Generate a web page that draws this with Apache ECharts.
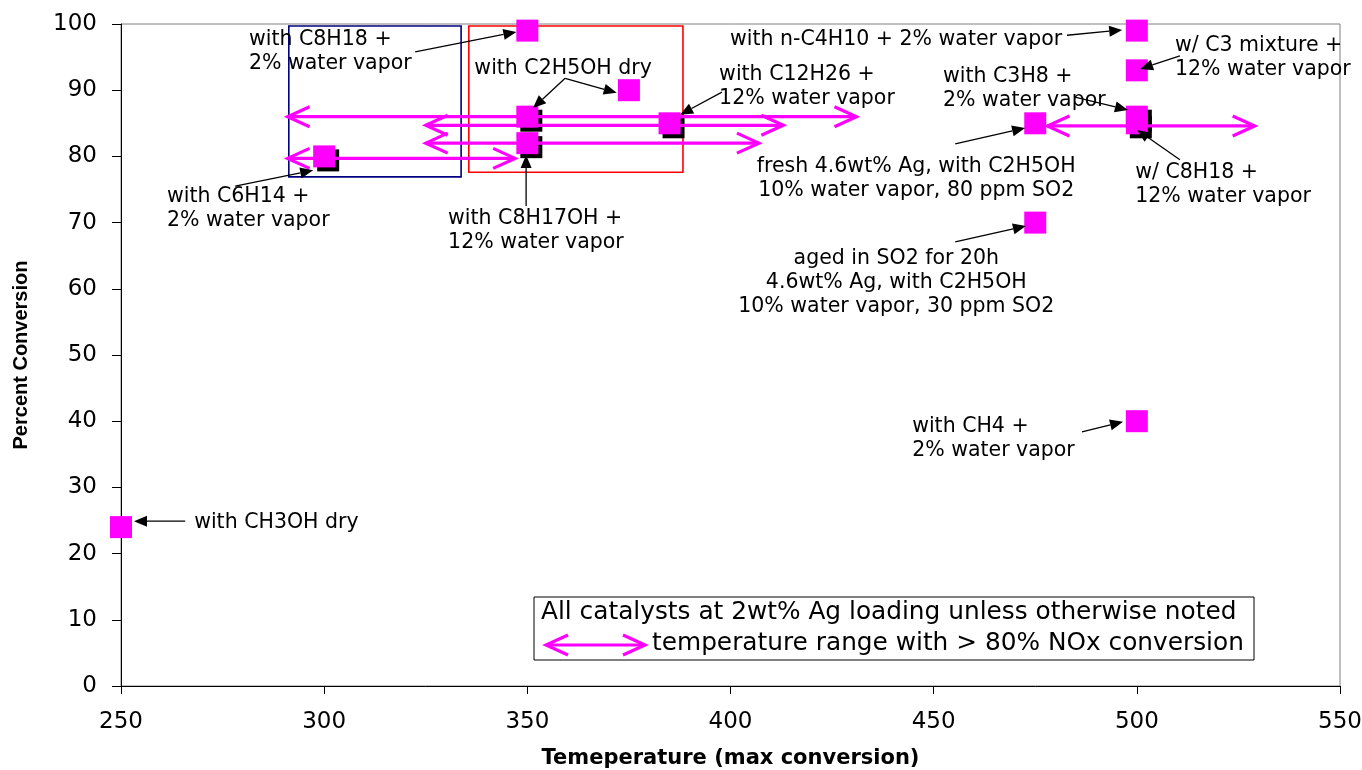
<!DOCTYPE html>
<html><head><meta charset="utf-8">
<script src="https://cdn.jsdelivr.net/npm/echarts@6/dist/echarts.min.js"></script>
<style>html,body{margin:0;padding:0;background:#fff}#c{width:1362px;height:770px}</style>
</head><body><div id="c"></div>
<script>
// ---- data ----
const plainX = [250, 350, 375, 475, 475, 500, 500, 500];
const plainY = [24, 99, 90, 85, 70, 99, 93, 40];
const shadowX = [300, 350, 350, 385, 500, 500];
const shadowY = [80, 86, 82, 85, 86, 85];
// temperature ranges with > 80% NOx conversion
const rangeStart = [291, 325, 325, 291, 478];
const rangeEnd   = [431, 413, 407, 347, 529];
const rangeY     = [86, 84.7, 82, 79.7, 84.6];
const xTicks = [250, 300, 350, 400, 450, 500, 550];
const yTicks = [0, 10, 20, 30, 40, 50, 60, 70, 80, 90, 100];

// ---- annotations (data coordinates) ----
const labelTexts = [
  'with C8H18 +\n2% water vapor',
  'with C2H5OH dry',
  'with C12H26 +\n12% water vapor',
  'with n-C4H10 + 2% water vapor',
  'w/ C3 mixture +\n12% water vapor',
  'with C3H8 +\n2% water vapor',
  'fresh 4.6wt% Ag, with C2H5OH\n10% water vapor, 80 ppm SO2',
  'w/ C8H18 +\n12% water vapor',
  'aged in SO2 for 20h\n4.6wt% Ag, with C2H5OH\n10% water vapor, 30 ppm SO2',
  'with CH4 +\n2% water vapor',
  'with CH3OH dry',
  'with C6H14 +\n2% water vapor',
  'with C8H17OH +\n12% water vapor'
];
const labelX = [281.5, 358.8, 397.2, 399.9, 509.4, 452.3, 445.7, 499.6, 440.8, 444.7, 268.0, 261.3, 330.5];
const labelY = [95.8, 93.2, 90.6, 97.6, 94.9, 90.3, 76.6, 75.8, 60.9, 37.3, 24.6, 72.05, 68.8];
const labelAlign = ['left','center','left','left','left','left','center','left','center','left','left','left','left'];

const arrowFromX = [322.4, 359.3, 359.3, 397.9, 482.8, 510.6, 484.8, 455.3, 510.6, 455.3, 486.5, 265.8, 278.1, 349.7];
const arrowFromY = [95.8, 91.8, 91.8, 89.7, 98.3, 95.2, 88.97, 81.9, 79.5, 67.1, 38.4, 24.9, 75.5, 72.5];
const arrowToX   = [347.3, 351.4, 372.0, 387.6, 496.4, 500.8, 497.8, 472.5, 500.05, 472.7, 496.6, 253.2, 297.3, 349.7];
const arrowToY   = [98.8, 87.3, 89.6, 86.3, 99.1, 93.2, 87.0, 84.3, 84.0, 69.5, 39.9, 24.9, 77.9, 80.2];

const boxX1 = [291.3, 335.6];
const boxY1 = [99.7, 99.7];
const boxX2 = [333.7, 388.3];
const boxY2 = [76.9, 77.6];
const boxColors = ['#000080', '#FF0000'];

const MAG = '#FF00FF';
const FONT = 'DejaVu Sans';

const chart = echarts.init(document.getElementById('c'));

function chevron(x, y, dir, L, H) {
  return [[x + dir * L, y - H], [x, y], [x + dir * L, y + H]];
}

const option = {
  animation: false,
  grid: { left: 121, right: 22, top: 24, bottom: 84, containLabel: false, outerBoundsMode: 'none',
    show: true, borderColor: '#808080', borderWidth: 1, backgroundColor: '#fff' },
  xAxis: {
    type: 'value', min: xTicks[0], max: xTicks[xTicks.length - 1], interval: 50,
    name: 'Temeperature (max conversion)', nameLocation: 'middle', nameGap: 62,
    nameTextStyle: { fontFamily: FONT, fontWeight: 'bold', fontSize: 21, color: '#000' },
    axisLine: { show: true, lineStyle: { color: '#000', width: 1 } },
    axisTick: { show: true, length: 8, lineStyle: { color: '#000' } },
    axisLabel: { fontFamily: FONT, fontSize: 23, color: '#000', margin: 25 },
    splitLine: { show: false }
  },
  yAxis: {
    type: 'value', min: yTicks[0], max: yTicks[yTicks.length - 1], interval: 10,
    name: 'Percent Conversion', nameLocation: 'middle', nameGap: 90,
    nameTextStyle: { fontFamily: 'Liberation Sans', fontWeight: 'bold', fontSize: 20, color: '#000' },
    axisLine: { show: true, lineStyle: { color: '#000', width: 1 } },
    axisTick: { show: true, length: 9, lineStyle: { color: '#000' } },
    axisLabel: { fontFamily: FONT, fontSize: 23, color: '#000', margin: 24 },
    splitLine: { show: false }
  },
  series: [
    {
      type: 'custom', name: 'boxes', z: 1,
      data: boxX1.map((v, i) => [v, boxY1[i], boxX2[i], boxY2[i]]),
      encode: { x: [0, 2], y: [1, 3] },
      renderItem: function (params, api) {
        const a = api.coord([api.value(0), api.value(1)]);
        const b = api.coord([api.value(2), api.value(3)]);
        return { type: 'rect', shape: { x: a[0], y: a[1], width: b[0] - a[0], height: b[1] - a[1] },
          style: { fill: null, stroke: boxColors[params.dataIndex], lineWidth: 1.6 } };
      }
    },
    {
      type: 'scatter', name: 'shadow', z: 2, symbol: 'rect', symbolSize: [22, 22], symbolOffset: [4, 4],
      itemStyle: { color: '#000', opacity: 1 },
      data: shadowX.map((v, i) => [v, shadowY[i]])
    },
    {
      type: 'custom', name: 'ranges', z: 3,
      data: rangeStart.map((v, i) => [v, rangeEnd[i], rangeY[i]]),
      encode: { x: [0, 1], y: 2 },
      renderItem: function (params, api) {
        const y = api.value(2);
        const p1 = api.coord([api.value(0), y]);
        const p2 = api.coord([api.value(1), y]);
        const st = { stroke: MAG, lineWidth: 3.2, fill: null };
        return { type: 'group', children: [
          { type: 'line', shape: { x1: p1[0], y1: p1[1], x2: p2[0], y2: p2[1] }, style: st },
          { type: 'polyline', shape: { points: chevron(p1[0], p1[1], 1, 22, 10) }, style: st },
          { type: 'polyline', shape: { points: chevron(p2[0], p2[1], -1, 22, 10) }, style: st }
        ] };
      }
    },
    {
      type: 'scatter', name: 'shadowed', z: 4, symbol: 'rect', symbolSize: [22, 22],
      itemStyle: { color: MAG, opacity: 1 },
      data: shadowX.map((v, i) => [v, shadowY[i]])
    },
    {
      type: 'scatter', name: 'points', z: 4, symbol: 'rect', symbolSize: [22, 22],
      itemStyle: { color: MAG, opacity: 1 },
      data: plainX.map((v, i) => [v, plainY[i]])
    },
    {
      type: 'custom', name: 'arrows', z: 5,
      data: arrowFromX.map((v, i) => [v, arrowFromY[i], arrowToX[i], arrowToY[i]]),
      encode: { x: [0, 2], y: [1, 3] },
      renderItem: function (params, api) {
        const a = api.coord([api.value(0), api.value(1)]);
        const b = api.coord([api.value(2), api.value(3)]);
        const dx = b[0] - a[0], dy = b[1] - a[1];
        const len = Math.sqrt(dx * dx + dy * dy) || 1;
        const ux = dx / len, uy = dy / len;
        const L = 13, W = 5.5;
        const bx = b[0] - ux * L, by = b[1] - uy * L;
        return { type: 'group', children: [
          { type: 'line', shape: { x1: a[0], y1: a[1], x2: bx, y2: by }, style: { stroke: '#000', lineWidth: 1.3 } },
          { type: 'polygon', shape: { points: [[b[0], b[1]], [bx - uy * W, by + ux * W], [bx + uy * W, by - ux * W]] }, style: { fill: '#000' } }
        ] };
      }
    },
    {
      type: 'custom', name: 'labels', z: 6,
      data: labelX.map((v, i) => [v, labelY[i]]),
      encode: { x: 0, y: 1 },
      renderItem: function (params, api) {
        const p = api.coord([api.value(0), api.value(1)]);
        return { type: 'text', x: p[0], y: p[1],
          style: { text: labelTexts[params.dataIndex], fill: '#000', fontFamily: FONT, fontSize: 20.5,
            lineHeight: 24, align: labelAlign[params.dataIndex], verticalAlign: 'middle' } };
      }
    }
  ],
  graphic: [
    { type: 'rect', z: 100, shape: { x: 534, y: 597, width: 720, height: 63 }, style: { fill: '#fff', stroke: '#000', lineWidth: 1 } },
    { type: 'text', z: 101, x: 541, y: 613, style: { text: 'All catalysts at 2wt% Ag loading unless otherwise noted', fill: '#000', fontFamily: FONT, fontSize: 24.8, verticalAlign: 'middle', align: 'left' } },
    { type: 'text', z: 101, x: 652, y: 644, style: { text: 'temperature range with > 80% NOx conversion', fill: '#000', fontFamily: FONT, fontSize: 24.8, verticalAlign: 'middle', align: 'left' } },
    { type: 'line', z: 101, shape: { x1: 546, y1: 645, x2: 645, y2: 645 }, style: { stroke: MAG, lineWidth: 3.2 } },
    { type: 'polyline', z: 101, shape: { points: chevron(546, 645, 1, 22, 10) }, style: { stroke: MAG, lineWidth: 3.2, fill: null } },
    { type: 'polyline', z: 101, shape: { points: chevron(645, 645, -1, 22, 10) }, style: { stroke: MAG, lineWidth: 3.2, fill: null } }
  ]
};
chart.setOption(option);
</script>
</body></html>
